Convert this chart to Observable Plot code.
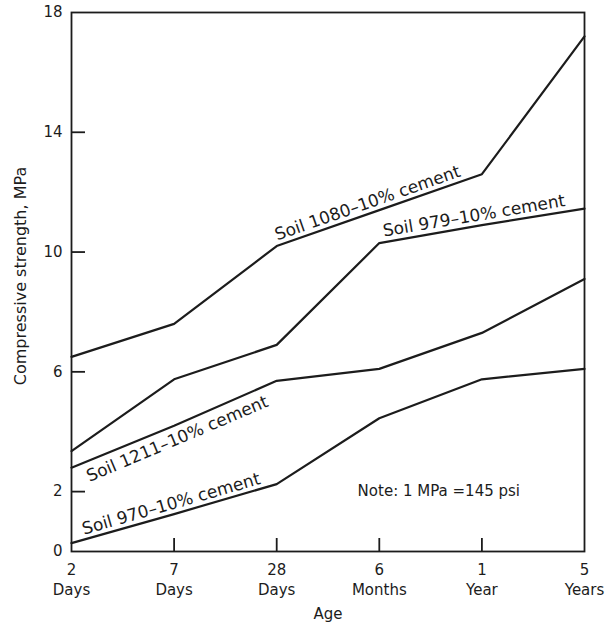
<!DOCTYPE html>
<html><head><meta charset="utf-8">
<script src="https://cdn.jsdelivr.net/npm/d3@7"></script>
<script src="https://cdn.jsdelivr.net/npm/@observablehq/plot@0.6"></script>
<style>body{margin:0;background:#fff} #chart svg{display:block}</style>
</head><body><div id="chart"></div>
<script>
// ---- data ----
const ageNumbers = ["2", "7", "28", "6", "1", "5"];
const ageUnits = ["Days", "Days", "Days", "Months", "Year", "Years"];
const yTicks = [0, 2, 6, 10, 14, 18];
const soil1080 = [6.5, 7.6, 10.2, 11.4, 12.6, 17.2];
const soil979 = [3.35, 5.75, 6.9, 10.3, 10.9, 11.45];
const soil1211 = [2.8, 4.2, 5.7, 6.1, 7.3, 9.1];
const soil970 = [0.28, 1.25, 2.25, 4.45, 5.75, 6.1];
const seriesValues = [soil1080, soil979, soil1211, soil970];
const labelTexts = ["Soil 1080–10% cement", "Soil 979–10% cement", "Soil 1211–10% cement", "Soil 970–10% cement"];
const labelFrom = [2, 3, 0, 0];
const labelTo = [4, 5, 2, 2];
const labelAt = [0.46, 0.47, 0.49, 0.5];
const labelSide = [1, 1, -1, 1];
const noteText = "Note: 1 MPa =145 psi";
const xTitle = "Age";
const yTitle = "Compressive strength, MPa";

// ---- layout ----
const W = 606, H = 626, mL = 71, mR = 22, mT = 12, mB = 75;
const pxPerX = (W - mL - mR) / 5, pxPerY = (H - mT - mB) / 18;
const ink = "#1c1c1c";
const yTickLen = 14, xTickLen = 13;

const rows = [];
seriesValues.forEach((vals, s) => vals.forEach((v, i) => rows.push({s, i, v})));
const xIdx = ageNumbers.map((d, i) => i);
const innerX = xIdx.slice(1, -1);
const innerY = yTicks.slice(1, -1);

function interp(vals, x) {
  const a = Math.floor(x), b = Math.min(a + 1, vals.length - 1);
  return vals[a] + (x - a) * (vals[b] - vals[a]);
}

const labelMarks = labelTexts.map((t, s) => {
  const vals = seriesValues[s];
  const i0 = labelFrom[s], i1 = labelTo[s];
  const x = i0 + labelAt[s] * (i1 - i0);
  const y = interp(vals, x);
  const a = Math.atan2(-(vals[i1] - vals[i0]) * pxPerY, (i1 - i0) * pxPerX);
  const off = labelSide[s] > 0 ? 10.5 : 13.5;
  return Plot.text([{x, y, t}], {
    x: "x", y: "y", text: "t",
    rotate: a * 180 / Math.PI,
    dx: labelSide[s] * off * Math.sin(a),
    dy: -labelSide[s] * off * Math.cos(a),
    textAnchor: "middle", lineAnchor: "middle",
    fontSize: 17, fill: ink
  });
});

const chart = Plot.plot({
  width: W, height: H,
  marginLeft: mL, marginRight: mR, marginTop: mT, marginBottom: mB,
  style: {fontFamily: "DejaVu Sans", fontSize: "15px", color: ink, background: "#fff"},
  x: {type: "linear", domain: [0, 5]},
  y: {domain: [0, 18]},
  marks: [
    Plot.axisY({ticks: yTicks, tickSize: 0, tickPadding: 9, label: null, fontSize: 15}),
    Plot.axisX({ticks: xIdx, tickSize: 0, tickPadding: 9, label: null,
      tickFormat: i => ageNumbers[i] + "\n" + ageUnits[i], lineHeight: 1.33, fontSize: 15}),
    Plot.ruleY(innerY, {y: d => d, x1: 0, x2: yTickLen / pxPerX, stroke: ink, strokeWidth: 1.8}),
    Plot.ruleX(innerX, {x: d => d, y1: 0, y2: xTickLen / pxPerY, stroke: ink, strokeWidth: 1.8}),
    Plot.frame({stroke: ink, strokeWidth: 1.8}),
    Plot.line(rows, {x: "i", y: "v", z: "s", stroke: ink, strokeWidth: 2.2, strokeLinejoin: "round"}),
    ...labelMarks,
    Plot.text([noteText], {x: 3.58, y: 2, text: d => d, textAnchor: "middle", fontSize: 15, fill: ink}),
    Plot.text([xTitle], {frameAnchor: "bottom", dy: 67, text: d => d, textAnchor: "middle", fontSize: 15, fill: ink}),
    Plot.text([yTitle], {frameAnchor: "left", dx: -51, dy: -6, rotate: -90, text: d => d,
      textAnchor: "middle", fontSize: 16, fill: ink})
  ]
});
document.getElementById("chart").append(chart);
</script>
</body></html>
